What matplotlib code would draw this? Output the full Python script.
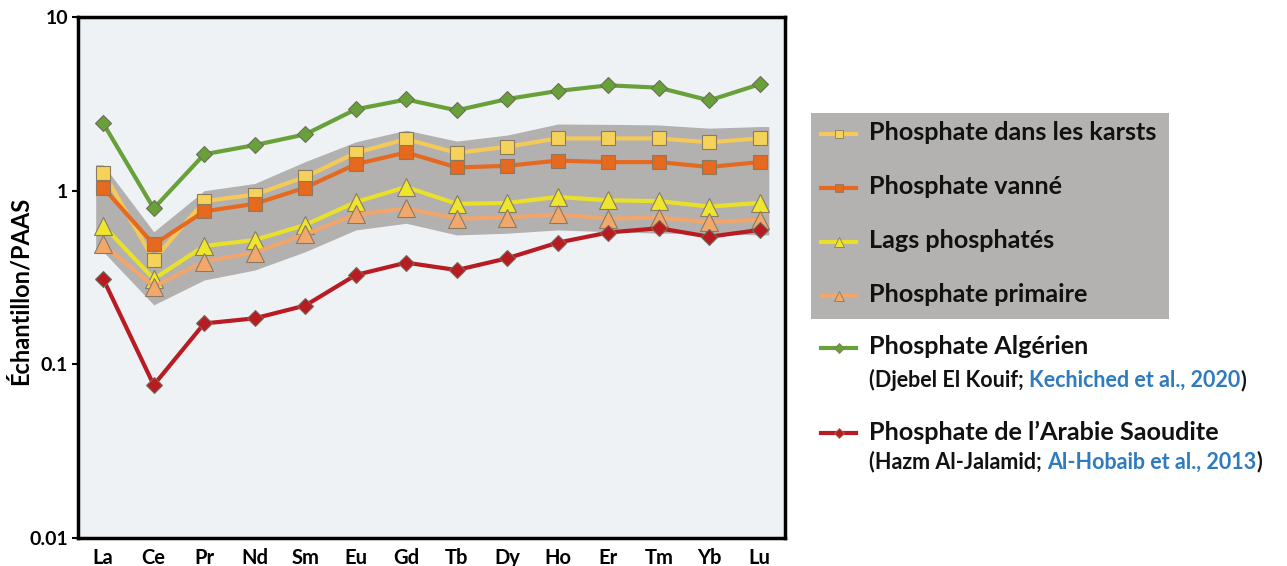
import numpy as np
import matplotlib
matplotlib.use("Agg")
import matplotlib.pyplot as plt
from matplotlib.patches import Rectangle
from matplotlib.lines import Line2D
from matplotlib.text import Annotation

# ---------------- data ----------------
elements = ["La", "Ce", "Pr", "Nd", "Sm", "Eu", "Gd", "Tb", "Dy", "Ho", "Er", "Tm", "Yb", "Lu"]

karst = [1.27, 0.40, 0.87, 0.95, 1.20, 1.65, 1.98, 1.65, 1.79, 2.00, 2.00, 2.00, 1.90, 2.00]
vanne = [1.04, 0.49, 0.76, 0.84, 1.04, 1.42, 1.66, 1.36, 1.39, 1.49, 1.46, 1.46, 1.37, 1.46]
lags = [0.63, 0.31, 0.48, 0.52, 0.635, 0.86, 1.05, 0.84, 0.85, 0.92, 0.88, 0.87, 0.81, 0.85]
primaire = [0.49, 0.28, 0.39, 0.44, 0.56, 0.73, 0.79, 0.69, 0.70, 0.73, 0.69, 0.70, 0.66, 0.68]
algerien = [2.44, 0.79, 1.62, 1.83, 2.11, 2.94, 3.35, 2.90, 3.37, 3.75, 4.04, 3.92, 3.31, 4.10]
saoudite = [0.31, 0.076, 0.172, 0.184, 0.218, 0.327, 0.385, 0.349, 0.408, 0.502, 0.574, 0.608, 0.543, 0.594]

band_upper = [1.41, 0.58, 1.00, 1.10, 1.47, 1.91, 2.23, 1.93, 2.09, 2.42, 2.41, 2.39, 2.29, 2.34]
band_lower = [0.445, 0.22, 0.306, 0.349, 0.445, 0.594, 0.649, 0.556, 0.569, 0.594, 0.581, 0.569, 0.569, 0.556]

yticks = [0.01, 0.1, 1, 10]
ytick_labels = ["0.01", "0.1", "1", "10"]

labels = ["Phosphate dans les karsts", "Phosphate vanné", "Lags phosphatés", "Phosphate primaire",
          "Phosphate Algérien", "Phosphate de l’Arabie Saoudite"]
sub_black = ["(Djebel El Kouif; ", "(Hazm Al-Jalamid; "]
sub_blue = ["Kechiched et al., 2020", "Al-Hobaib et al., 2013"]

# ---------------- style ----------------
plt.rcParams['font.family'] = ['Lato', 'DejaVu Sans']
plt.rcParams['font.weight'] = 'bold'
W, H = 1287, 566
fig = plt.figure(figsize=(W / 100, H / 100), dpi=100)
fig.patch.set_facecolor("white")

ax = fig.add_axes([78 / W, 1 - 538 / H, (785 - 78) / W, (538 - 17) / H])
ax.set_facecolor("#eff2f5")

x = np.arange(len(elements))
edge = "#8a7a62"

# envelope band
bx = np.concatenate([[x[0] - 0.15], x, [x[-1] + 0.18]])
bu = np.concatenate([[band_upper[0]], band_upper, [band_upper[-1]]])
bl = np.concatenate([[band_lower[0]], band_lower, [band_lower[-1]]])
ax.fill_between(bx, bl, bu, color="#b3b1b0", lw=0, zorder=1)

series = [
    (karst, "#f3c95a", "#f5d35a", "s", 10.5),
    (vanne, "#e5691f", "#e5691f", "s", 10.5),
    (lags, "#e9e02a", "#ede52e", "^", 12.5),
    (primaire, "#f0a66c", "#f2a86c", "^", 12.5),
    (algerien, "#68a03a", "#68a03a", "D", 8.0),
    (saoudite, "#b81c22", "#b81c22", "D", 8.0),
]
for i, (vals, lc, fc, mk, ms) in enumerate(series):
    ax.plot(x, vals, color=lc, lw=3.0, zorder=3 + i * 0.01,
            marker=mk, markersize=ms, markerfacecolor=fc,
            markeredgecolor=edge if i < 4 else "#6d6d5a", markeredgewidth=0.8)

ax.set_yscale("log")
ax.set_ylim(0.01, 10)
ax.set_xlim(-0.5, 13.5)
ax.set_yticks(yticks)
ax.set_yticklabels(ytick_labels)
ax.minorticks_off()
ax.set_xticks(x)
ax.set_xticklabels(elements)
ax.tick_params(axis="x", length=0, pad=7, labelsize=14.5)
ax.tick_params(axis="y", length=4, width=1.5, pad=3, labelsize=14)
for lab in ax.get_xticklabels() + ax.get_yticklabels():
    lab.set_fontweight("bold")
for s in ax.spines.values():
    s.set_linewidth(2.5)
    s.set_color("black")
ax.set_ylabel("Échantillon/PAAS", fontsize=17, fontweight="bold")
ax.yaxis.set_label_coords(-0.066, 0.475)

# ---------------- legend (manual) ----------------
def fx(px):
    return px / W

def fy(py):
    return 1 - py / H

fig.patches.append(Rectangle((fx(811), fy(319)), fx(1169) - fx(811), fy(113) - fy(319),
                             transform=fig.transFigure, facecolor="#b3b2b1", edgecolor="none", zorder=0))

rows_y = [133, 187, 241, 295, 347, 432]
leg_ms = [6, 6, 7, 7, 5.5, 5.5]
for (vals, lc, fc, mk, ms), ry, lab, lms in zip(series, rows_y, labels, leg_ms):
    fig.lines.append(Line2D([fx(821), fx(856)], [fy(ry + 1), fy(ry + 1)], transform=fig.transFigure,
                            color=lc, lw=3.0, marker=None))
    fig.lines.append(Line2D([fx(838.5)], [fy(ry + 1)], transform=fig.transFigure,
                            color=lc, lw=0, marker=mk, markersize=lms, markerfacecolor=fc,
                            markeredgecolor=edge, markeredgewidth=0.6))
    fig.text(fx(869), fy(ry), lab, fontsize=18.2, fontweight="bold", va="center", ha="left",
             color="#111111")

sub_y = [380, 462]
for sy, sb, sbl in zip(sub_y, sub_black, sub_blue):
    t1 = fig.text(fx(869), fy(sy), sb, fontsize=15.5, fontweight="bold", va="center", ha="left",
                  color="#111111")
    a2 = fig.add_artist(Annotation(sbl, xy=(1, 0), xycoords=t1, va="bottom", ha="left",
                                   fontsize=15.5, fontweight="bold", color="#2f7bbf"))
    a3 = fig.add_artist(Annotation(")", xy=(1, 0), xycoords=a2, va="bottom", ha="left",
                                   fontsize=15.5, fontweight="bold", color="#111111"))

fig.savefig("out.png", dpi=100, facecolor="white")
